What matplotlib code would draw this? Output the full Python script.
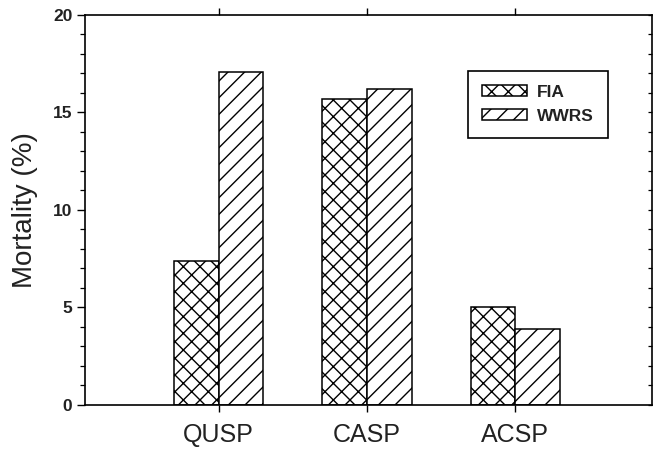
import numpy as np
import matplotlib
matplotlib.use('Agg')
import matplotlib.pyplot as plt
from matplotlib.ticker import MultipleLocator

plt.rcParams['font.family'] = ['Liberation Sans', 'DejaVu Sans']
plt.rcParams['hatch.linewidth'] = 1.0
plt.rcParams['hatch.color'] = 'black'

species = ['QUSP', 'CASP', 'ACSP']
fia = [7.4, 15.7, 5.0]
wwrs = [17.1, 16.2, 3.9]

x = np.arange(1, len(species) + 1)
w = 0.3

fig = plt.figure(figsize=(6.53, 4.5), dpi=100)
ax = fig.add_axes([0.130, 0.10, 0.8685, 0.8667])

ax.bar(x - w / 2, fia, w, color='white', edgecolor='black', linewidth=1.1,
       hatch='xx', label='FIA')
ax.bar(x + w / 2, wwrs, w, color='white', edgecolor='black', linewidth=1.1,
       hatch='//', label='WWRS')

ax.set_xlim(0.1, 3.92)
ax.set_ylim(0, 20)
ax.set_xticks(x)
ax.set_xticklabels(species, fontsize=18, color='#222222')
ax.set_yticks([0, 5, 10, 15, 20])
ax.yaxis.set_minor_locator(MultipleLocator(1))
for lbl in ax.get_yticklabels():
    lbl.set_fontweight('bold')
    lbl.set_fontsize(12.5)
    lbl.set_color('#222222')

ax.tick_params(axis='x', which='both', direction='out', length=5, width=1.0,
               top=True, pad=8)
ax.tick_params(axis='y', which='major', direction='out', length=6, width=1.0,
               right=False, pad=3)
ax.tick_params(axis='y', which='minor', direction='out', length=3.5, width=0.9,
               right=False)

# small inward ticks on the right spine
ax2 = ax.twinx()
ax2.set_ylim(0, 20)
ax2.yaxis.set_major_locator(MultipleLocator(1))
ax2.tick_params(axis='y', direction='in', length=3, width=0.9, labelright=False)
for s in ax2.spines.values():
    s.set_visible(False)

for s in ax.spines.values():
    s.set_linewidth(1.2)

ax.set_ylabel('Mortality (%)', fontsize=20, color='#222222', labelpad=11)

leg = ax.legend(loc='upper left', bbox_to_anchor=(0.675, 0.856),
                borderaxespad=0,
                prop={'weight': 'bold', 'size': 12.5},
                handlelength=2.6, handleheight=0.6, handletextpad=0.6,
                borderpad=0.8, labelspacing=0.5, fancybox=False,
                edgecolor='black', framealpha=1)
leg.get_frame().set_linewidth(1.2)
for t in leg.get_texts():
    t.set_color('#222222')

fig.savefig('out.png', dpi=100)
